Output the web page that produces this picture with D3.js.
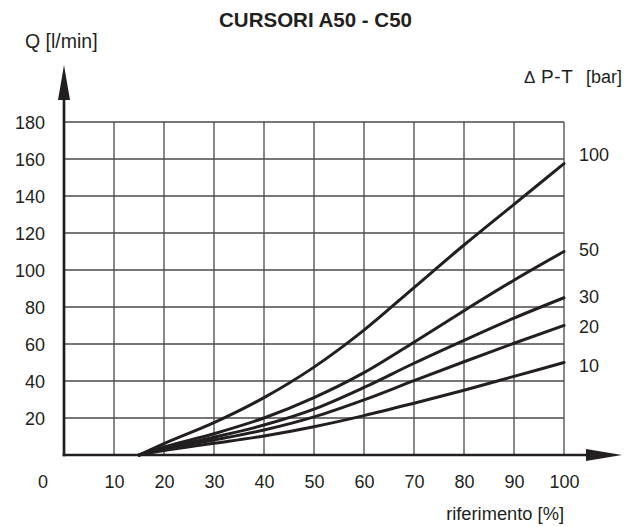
<!DOCTYPE html>
<html>
<head>
<meta charset="utf-8">
<script src="https://cdn.jsdelivr.net/npm/d3@7"></script>
<style>
  html, body { margin: 0; padding: 0; background: #fff; }
  svg { display: block; font-family: "Liberation Sans", Arial, Helvetica, sans-serif; }
</style>
</head>
<body>
<script>
// ---- data ----
const title = "CURSORI A50 - C50";
const yTitle = "Q [l/min]";
const xTitle = "riferimento [%]";
const legendDelta = "\u0394";
const legendTitleA = "P-T";
const legendTitleB = "[bar]";
const xTicks = [10, 20, 30, 40, 50, 60, 70, 80, 90, 100];
const yTicks = [20, 40, 60, 80, 100, 120, 140, 160, 180];
const xRef = [15, 20, 30, 40, 50, 60, 70, 80, 90, 100];
const pressures = [100, 50, 30, 20, 10];
const q100 = [0, 6.2, 17.5, 31, 47.5, 67.5, 90.5, 113.5, 135.5, 157.5];
const q50  = [0, 4.3, 11.5, 20, 31, 44.5, 61, 78, 94.5, 110];
const q30  = [0, 3.6, 9.6, 16.2, 24.8, 36.5, 49.6, 62, 74, 85];
const q20  = [0, 3.1, 8.1, 13.5, 20.6, 29.8, 40.2, 50.4, 60.4, 70];
const q10  = [0, 2.4, 6.3, 10.3, 15.3, 21.3, 28, 35, 42.5, 50];

// ---- layout ----
const W = 638, H = 527;
const ink = "#231f20";
const gridCol = "#4a4a4a";
const series = [q100, q50, q30, q20, q10];
const labelDy = [-9, -2, -1, 1, 3]; // label baseline shift from curve end (px)

const x = d3.scaleLinear().domain([0, 100]).range([64, 564]);
const y = d3.scaleLinear().domain([0, 180]).range([455, 122]);

const svg = d3.select("body").append("svg").attr("width", W).attr("height", H);

// grid
const g = svg.append("g");
g.selectAll("line.h").data(yTicks).enter().append("line")
  .attr("x1", x(0)).attr("x2", x(100))
  .attr("y1", d => y(d)).attr("y2", d => y(d))
  .attr("stroke", gridCol).attr("stroke-width", 1.3);
g.selectAll("line.v").data(xTicks).enter().append("line")
  .attr("x1", d => x(d)).attr("x2", d => x(d))
  .attr("y1", y(0)).attr("y2", y(180))
  .attr("stroke", gridCol).attr("stroke-width", 1.3);

// axes lines with arrows
svg.append("line").attr("x1", x(0)).attr("x2", x(0)).attr("y1", y(0) + 1.3).attr("y2", 95)
  .attr("stroke", ink).attr("stroke-width", 2.7);
svg.append("path").attr("d", `M${x(0)},65 L${x(0) - 6},100 L${x(0) + 6},100 Z`).attr("fill", ink);
svg.append("line").attr("x1", x(0) - 1.3).attr("x2", 590).attr("y1", y(0)).attr("y2", y(0))
  .attr("stroke", ink).attr("stroke-width", 2.7);
svg.append("path").attr("d", `M622,${y(0)} L586,${y(0) - 6} L586,${y(0) + 6} Z`).attr("fill", ink);

// y axis labels
const yAxis = d3.axisLeft(y).tickValues(yTicks).tickSize(0).tickPadding(19).tickFormat(d3.format("d"));
const ya = svg.append("g").attr("transform", `translate(${x(0)},0)`).call(yAxis);
ya.select(".domain").remove();
ya.selectAll("text").attr("font-size", 18).attr("fill", ink).attr("font-family", "Liberation Sans, Arial, sans-serif").attr("dy", "0.36em");

// x axis labels
const xAxis = d3.axisBottom(x).tickValues(xTicks).tickSize(0).tickPadding(0).tickFormat(d3.format("d"));
const xa = svg.append("g").attr("transform", `translate(0,${y(0)})`).call(xAxis);
xa.select(".domain").remove();
xa.selectAll("text").attr("font-size", 18).attr("fill", ink).attr("font-family", "Liberation Sans, Arial, sans-serif")
  .attr("y", 33).attr("dy", 0);
svg.append("text").attr("x", 43).attr("y", y(0) + 33).attr("text-anchor", "middle")
  .attr("font-size", 18).attr("fill", ink).text("0");

// curves
const line = d3.line().x((d, i) => x(xRef[i])).y(d => y(d)).curve(d3.curveMonotoneX);
svg.selectAll("path.curve").data(series).enter().append("path")
  .attr("d", d => line(d)).attr("fill", "none")
  .attr("stroke", ink).attr("stroke-width", 3).attr("stroke-linecap", "round");

// curve labels
svg.selectAll("text.lab").data(pressures).enter().append("text")
  .attr("x", 579)
  .attr("y", (d, i) => y(series[i][series[i].length - 1]) + 6 + labelDy[i])
  .attr("font-size", 18).attr("fill", ink).text(d => d);

// titles
svg.append("text").attr("x", 315.5).attr("y", 27).attr("text-anchor", "middle")
  .attr("font-size", 20.5).attr("font-weight", "bold").attr("fill", ink).text(title);
svg.append("text").attr("x", 25).attr("y", 48).attr("font-size", 19.5).attr("fill", ink).text(yTitle);
svg.append("text").attr("x", 564).attr("y", 520).attr("text-anchor", "end")
  .attr("font-size", 18.3).attr("fill", ink).text(xTitle);
svg.append("text").attr("x", 524).attr("y", 83).attr("font-size", 17).attr("fill", ink).text(legendDelta);
svg.append("text").attr("x", 541).attr("y", 83).attr("font-size", 19).attr("letter-spacing", 0.6).attr("fill", ink).text(legendTitleA);
svg.append("text").attr("x", 622).attr("y", 83).attr("text-anchor", "end").attr("font-size", 18).attr("fill", ink).text(legendTitleB);
</script>
</body>
</html>
